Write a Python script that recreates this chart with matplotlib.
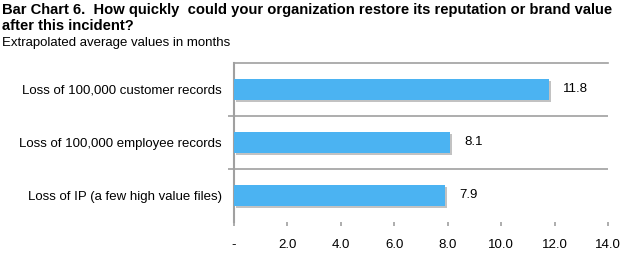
import matplotlib.pyplot as plt
import matplotlib.patheffects as pe

plt.rcParams['font.family'] = ['Liberation Sans', 'DejaVu Sans']

categories = ['Loss of 100,000 customer records',
              'Loss of 100,000 employee records',
              'Loss of IP (a few high value files)']
values = [11.8, 8.1, 7.9]
xticks = [0, 2, 4, 6, 8, 10, 12, 14]
xtick_labels = ['-', '2.0', '4.0', '6.0', '8.0', '10.0', '12.0', '14.0']

fig = plt.figure(figsize=(6.33, 2.59), dpi=100)
ax = fig.add_axes([0.3697, 0.1429, 0.9605 - 0.3697, 0.7568 - 0.1429])

ypos = list(range(len(values)))
bars = ax.barh(ypos, values, height=0.4, color='#4BB3F2', zorder=3)
for b in bars:
    b.set_path_effects([pe.SimplePatchShadow(offset=(1.5, -1.5), shadow_rgbFace='#9a9a9a', alpha=0.6),
                        pe.Normal()])

for y, v in zip(ypos, values):
    ax.annotate(f'{v:.1f}', (v, y), xytext=(10, 0), textcoords='offset points',
                va='center', ha='left', fontsize=9.5)

ax.set_xlim(0, 14)
ax.set_ylim(2.5, -0.5)
ax.set_yticks(ypos)
ax.set_yticklabels(categories, fontsize=9.5)
ax.tick_params(axis='y', which='major', length=0, pad=9)
ax.set_yticks([0.5, 1.5], minor=True)
ax.tick_params(axis='y', which='minor', length=4, color='#a0a0a0', width=1.2)
for yb in [0.5, 1.5]:
    ax.axhline(yb, color='#a0a0a0', lw=1.2, zorder=1)

ax.set_xticks(xticks)
ax.set_xticklabels(xtick_labels, fontsize=9.5)
ax.tick_params(axis='x', length=3, color='#a0a0a0', width=1.2, pad=9)

for s in ['right', 'bottom']:
    ax.spines[s].set_visible(False)
ax.spines['left'].set_color('#a0a0a0')
ax.spines['left'].set_linewidth(1.5)
ax.spines['top'].set_color('#a0a0a0')
ax.spines['top'].set_linewidth(1.2)

# title in two lines + subtitle
fig.text(0.003, 0.99, 'Bar Chart 6.  How quickly  could your organization restore its reputation or brand value',
         fontsize=10.6, fontweight='bold', va='top', ha='left')
fig.text(0.003, 0.925, 'after this incident?', fontsize=10.6, fontweight='bold', va='top', ha='left')
fig.text(0.003, 0.857, 'Extrapolated average values in months', fontsize=9.5, va='top', ha='left')

fig.savefig('out.png', dpi=100)
